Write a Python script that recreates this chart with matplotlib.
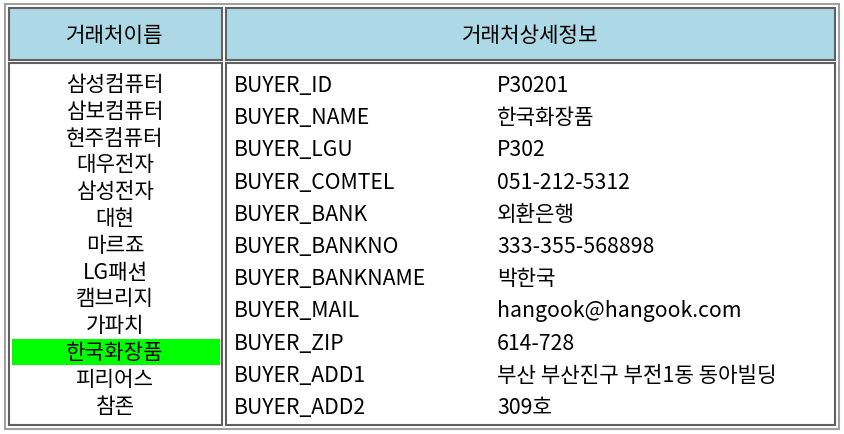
import matplotlib.pyplot as plt
from matplotlib.patches import Rectangle

plt.rcParams['font.family'] = ['Noto Sans CJK KR', 'DejaVu Sans']

headers = ["거래처이름", "거래처상세정보"]
buyers = ["삼성컴퓨터", "삼보컴퓨터", "현주컴퓨터", "대우전자", "삼성전자", "대현", "마르죠",
          "LG패션", "캠브리지", "가파치", "한국화장품", "피리어스", "참존"]
selected = "한국화장품"
fields = ["BUYER_ID", "BUYER_NAME", "BUYER_LGU", "BUYER_COMTEL", "BUYER_BANK", "BUYER_BANKNO",
          "BUYER_BANKNAME", "BUYER_MAIL", "BUYER_ZIP", "BUYER_ADD1", "BUYER_ADD2"]
values = ["P30201", "한국화장품", "P302", "051-212-5312", "외환은행", "333-355-568898",
          "박한국", "hangook@hangook.com", "614-728", "부산 부산진구 부전1동 동아빌딩", "309호"]

W, H = 844, 435
fig = plt.figure(figsize=(W / 100, H / 100), dpi=100)
ax = fig.add_axes([0, 0, 1, 1])
ax.set_xlim(0, W)
ax.set_ylim(H, 0)
ax.axis("off")

# outer table border
ax.add_patch(Rectangle((5, 5), 834, 425, fill=False, ec="#a0a0a0", lw=1.5))
# cells
cells = [(9, 9, 213, 52, "lightblue"), (226, 9, 609, 52, "lightblue"),
         (9, 64, 213, 362, "white"), (226, 64, 609, 362, "white")]
for x, y, w, h, c in cells:
    ax.add_patch(Rectangle((x, y), w, h, fc=c, ec="#606060", lw=1.5))

fs = 15.3
ax.text(115, 36, headers[0], ha="center", va="center", fontsize=fs)
ax.text(530, 36, headers[1], ha="center", va="center", fontsize=fs)

step = 26.8
for i, name in enumerate(buyers):
    yc = 85 + i * step
    if name == selected:
        ax.add_patch(Rectangle((12, yc - 13), 208, 26, fc="#00ff00", ec="none"))
    ax.text(115, yc, name, ha="center", va="center", fontsize=fs)

step2 = 32.2
for i, (f, v) in enumerate(zip(fields, values)):
    yc = 86 + i * step2
    ax.text(234, yc, f, ha="left", va="center", fontsize=fs)
    ax.text(497, yc, v, ha="left", va="center", fontsize=fs)

fig.savefig("out.png", dpi=100)
